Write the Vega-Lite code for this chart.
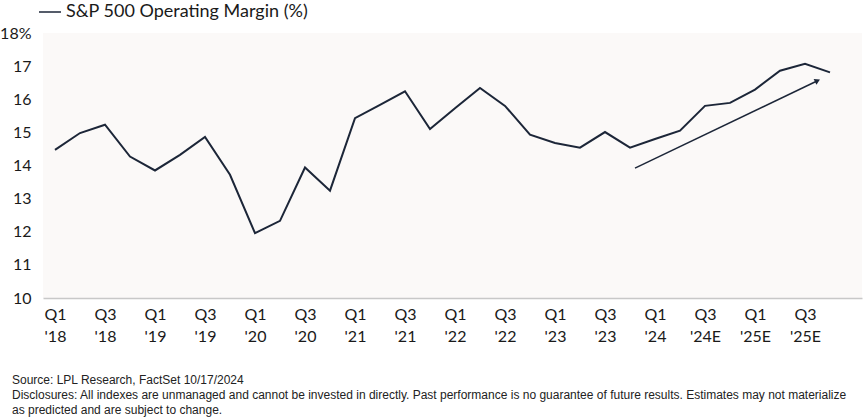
{
  "$schema": "https://vega.github.io/schema/vega-lite/v6.json",
  "width": 819,
  "height": 265,
  "autosize": {"type": "none"},
  "padding": {"left": 43, "top": 33, "right": 6, "bottom": 120},
  "background": "#ffffff",
  "config": {
    "view": {"fill": "#fbf9f8", "stroke": null},
    "font": "Lato",
    "axis": {"labelOverlap": false, "labelFlush": false}
  },
  "title": {
    "text": ["Source: LPL Research, FactSet 10/17/2024", "Disclosures: All indexes are unmanaged and cannot be invested in directly. Past performance is no guarantee of future results. Estimates may not materialize", "as predicted and are subject to change."],
    "orient": "bottom",
    "anchor": "start",
    "frame": "group",
    "dx": -31,
    "offset": 31,
    "font": "Liberation Sans",
    "fontSize": 12,
    "fontWeight": "normal",
    "lineHeight": 15,
    "color": "#222222"
  },
  "datasets": {
    "margin": [
      {"i": 0, "quarter": "Q1 2018", "v": 14.47},
      {"i": 1, "quarter": "Q2 2018", "v": 14.98},
      {"i": 2, "quarter": "Q3 2018", "v": 15.23},
      {"i": 3, "quarter": "Q4 2018", "v": 14.27},
      {"i": 4, "quarter": "Q1 2019", "v": 13.85},
      {"i": 5, "quarter": "Q2 2019", "v": 14.32},
      {"i": 6, "quarter": "Q3 2019", "v": 14.86},
      {"i": 7, "quarter": "Q4 2019", "v": 13.72},
      {"i": 8, "quarter": "Q1 2020", "v": 11.96},
      {"i": 9, "quarter": "Q2 2020", "v": 12.33},
      {"i": 10, "quarter": "Q3 2020", "v": 13.94},
      {"i": 11, "quarter": "Q4 2020", "v": 13.24},
      {"i": 12, "quarter": "Q1 2021", "v": 15.43},
      {"i": 13, "quarter": "Q2 2021", "v": 15.83},
      {"i": 14, "quarter": "Q3 2021", "v": 16.24},
      {"i": 15, "quarter": "Q4 2021", "v": 15.1},
      {"i": 16, "quarter": "Q1 2022", "v": 15.73},
      {"i": 17, "quarter": "Q2 2022", "v": 16.34},
      {"i": 18, "quarter": "Q3 2022", "v": 15.8},
      {"i": 19, "quarter": "Q4 2022", "v": 14.93},
      {"i": 20, "quarter": "Q1 2023", "v": 14.68},
      {"i": 21, "quarter": "Q2 2023", "v": 14.54},
      {"i": 22, "quarter": "Q3 2023", "v": 15.01},
      {"i": 23, "quarter": "Q4 2023", "v": 14.54},
      {"i": 24, "quarter": "Q1 2024", "v": 14.8},
      {"i": 25, "quarter": "Q2 2024", "v": 15.05},
      {"i": 26, "quarter": "Q3 2024E", "v": 15.8},
      {"i": 27, "quarter": "Q4 2024E", "v": 15.89},
      {"i": 28, "quarter": "Q1 2025E", "v": 16.29},
      {"i": 29, "quarter": "Q2 2025E", "v": 16.86},
      {"i": 30, "quarter": "Q3 2025E", "v": 17.07},
      {"i": 31, "quarter": "Q4 2025E", "v": 16.81}
    ],
    "arrow": [
      {"i": 23.2, "v": 13.92, "i2": 30.5, "v2": 16.56}
    ]
  },
  "encoding": {
    "x": {
      "field": "i",
      "type": "quantitative",
      "scale": {"domain": [-0.48, 32.28], "nice": false, "zero": false},
      "axis": {
        "values": [0, 2, 4, 6, 8, 10, 12, 14, 16, 18, 20, 22, 24, 26, 28, 30],
        "labelExpr": "[(datum.value % 4 == 0 ? 'Q1' : 'Q3'), \"'\" + (18 + floor(datum.value / 4)) + (datum.value >= 26 ? 'E' : '')]",
        "title": null,
        "grid": false,
        "ticks": false,
        "domainColor": "#c8c8c8",
        "domainWidth": 1.5,
        "labelFontSize": 16,
        "labelColor": "#1a1a1a",
        "labelPadding": 8,
        "labelLineHeight": 22,
        "labelBaseline": "top",
        "labelFlush": false,
        "labelOverlap": false
      }
    },
    "y": {
      "field": "v",
      "type": "quantitative",
      "scale": {"domain": [10, 18], "nice": false, "zero": false},
      "axis": {
        "values": [10, 11, 12, 13, 14, 15, 16, 17, 18],
        "labelExpr": "datum.value == 18 ? '18%' : datum.value",
        "title": null,
        "grid": false,
        "ticks": false,
        "domain": false,
        "labelFontSize": 16,
        "labelColor": "#1a1a1a",
        "labelPadding": 12,
        "labelOverlap": false,
        "labelFlush": false
      }
    }
  },
  "layer": [
    {
      "data": {"name": "margin"},
      "mark": {"type": "line", "strokeWidth": 2, "strokeJoin": "miter"},
      "encoding": {
        "color": {
          "datum": "S&P 500 Operating Margin (%)",
          "type": "nominal",
          "scale": {"range": ["#1c2638"]},
          "legend": {
            "title": null,
            "orient": "none",
            "legendX": -5,
            "legendY": -33,
            "symbolType": "stroke",
            "symbolSize": 484,
            "symbolStrokeWidth": 1.5,
            "labelFontSize": 18,
            "labelColor": "#1a1a1a",
            "labelLimit": 400
          }
        }
      }
    },
    {
      "data": {"name": "arrow"},
      "mark": {"type": "rule", "strokeWidth": 1.5, "color": "#1c2638"},
      "encoding": {
        "x2": {"field": "i2"},
        "y2": {"field": "v2"}
      }
    },
    {
      "data": {"name": "arrow"},
      "mark": {"type": "point", "shape": "triangle-up", "filled": true, "size": 40, "angle": 64, "color": "#1c2638", "opacity": 1},
      "encoding": {
        "x": {"field": "i2", "type": "quantitative"},
        "y": {"field": "v2", "type": "quantitative"}
      }
    }
  ]
}
